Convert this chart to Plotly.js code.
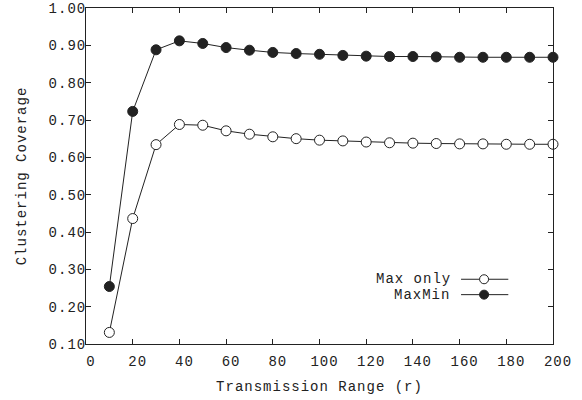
<!DOCTYPE html>
<html>
<head>
<meta charset="utf-8">
<script src="https://cdn.plot.ly/plotly-3.0.1.min.js"></script>
<style>
  html, body { margin: 0; padding: 0; background: #fff; }
  #chart { width: 582px; height: 400px; }
  .main-svg text { letter-spacing: 1px; }
</style>
</head>
<body>
<div id="chart"></div>
<script>
// Data
const ranges = [10, 20, 30, 40, 50, 60, 70, 80, 90, 100, 110, 120, 130, 140, 150, 160, 170, 180, 190, 200];
const maxOnly = [0.131, 0.436, 0.634, 0.688, 0.686, 0.671, 0.662, 0.655, 0.650, 0.646, 0.644, 0.641, 0.639, 0.638, 0.637, 0.636, 0.636, 0.635, 0.635, 0.635];
const maxMin  = [0.254, 0.723, 0.888, 0.912, 0.905, 0.894, 0.887, 0.881, 0.878, 0.876, 0.873, 0.871, 0.870, 0.870, 0.869, 0.868, 0.868, 0.868, 0.868, 0.868];
const seriesNames = ["Max only", "MaxMin"];
const xTicks = [0, 20, 40, 60, 80, 100, 120, 140, 160, 180, 200];
const yTicks = [0.1, 0.2, 0.3, 0.4, 0.5, 0.6, 0.7, 0.8, 0.9, 1.0];

const ink = "#222";
const font = { family: "Courier New, Courier, Nimbus Mono PS, FreeMono, Liberation Mono, monospace", size: 14, color: ink };

const traces = [
  {
    x: ranges, y: maxOnly, name: seriesNames[0], type: "scatter", mode: "lines+markers",
    line: { color: ink, width: 1 },
    marker: { symbol: "circle", size: 10, color: "#fff", line: { color: ink, width: 1 } },
    cliponaxis: false, showlegend: false
  },
  {
    x: ranges, y: maxMin, name: seriesNames[1], type: "scatter", mode: "lines+markers",
    line: { color: ink, width: 1 },
    marker: { symbol: "circle", size: 10, color: ink, line: { color: ink, width: 1 } },
    cliponaxis: false, showlegend: false
  }
];

// Gnuplot-style legend (text left of sample) built in paper coordinates
const legRows = [0.1927, 0.1469];
const legX0 = 0.8031, legX1 = 0.9043, legXm = 0.8524, legTextX = 0.7774;
const shapes = [];
const annotations = [];
legRows.forEach((yy, i) => {
  shapes.push({ type: "line", xref: "paper", yref: "paper", x0: legX0, x1: legX1, y0: yy, y1: yy,
                line: { color: ink, width: 1 } });
  shapes.push({ type: "circle", xref: "paper", yref: "paper", xsizemode: "pixel", ysizemode: "pixel",
                xanchor: legXm, yanchor: yy, x0: -4.5, x1: 4.5, y0: -4.5, y1: 4.5,
                fillcolor: i === 0 ? "#fff" : ink, line: { color: ink, width: 1 } });
  annotations.push({ xref: "paper", yref: "paper", x: legTextX, y: yy, text: seriesNames[i],
                     showarrow: false, xanchor: "right", yanchor: "middle", font: font });
});

const axisCommon = {
  showgrid: false, zeroline: false, showline: true, linecolor: ink, linewidth: 1,
  mirror: "ticks", ticks: "inside", ticklen: 5, tickcolor: ink, tickwidth: 1,
  tickfont: font
};

const layout = {
  width: 582, height: 400,
  margin: { l: 86, r: 29, t: 8, b: 56 },
  paper_bgcolor: "#fff", plot_bgcolor: "#fff",
  font: font,
  xaxis: Object.assign({}, axisCommon, {
    range: [0, 200], tickmode: "array", tickvals: xTicks, ticktext: xTicks.map(String),
    ticklabelstandoff: 4, ticklabelshift: 5,
    title: { text: "Transmission Range (r)", font: font, standoff: 12 }
  }),
  yaxis: Object.assign({}, axisCommon, {
    range: [0.1, 1.0], tickmode: "array", tickvals: yTicks, ticktext: yTicks.map(v => v.toFixed(2)),
    ticklabelstandoff: -4,
    title: { text: "Clustering Coverage", font: font, standoff: 22 }
  }),
  shapes: shapes,
  annotations: annotations,
  showlegend: false
};

Plotly.newPlot("chart", traces, layout, { displayModeBar: false, staticPlot: true });
</script>
</body>
</html>
